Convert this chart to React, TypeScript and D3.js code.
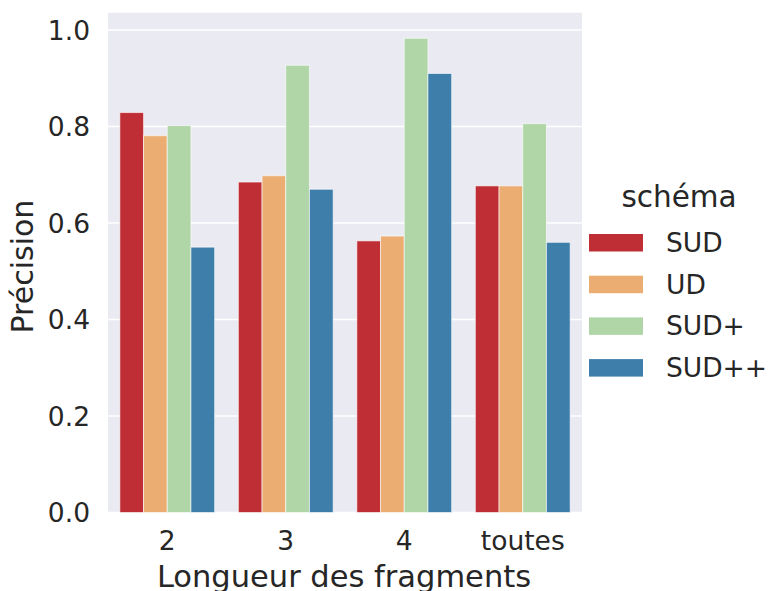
import React from "react";
import * as d3 from "d3";

const categories = ["2", "3", "4", "toutes"];
const series = ["SUD", "UD", "SUD+", "SUD++"];
const valuesSUD = [0.829, 0.685, 0.563, 0.677];
const valuesUD = [0.781, 0.698, 0.573, 0.677];
const valuesSUDp = [0.802, 0.927, 0.983, 0.806];
const valuesSUDpp = [0.55, 0.67, 0.91, 0.56];
const yTicks = [0, 0.2, 0.4, 0.6, 0.8, 1.0];
const colors = ["#c02e35", "#ebad72", "#b0d6a8", "#3d7eaa"];

const W = 772, H = 591;
const left = 108, right = 582, top = 12.7, bottom = 512.5;
const FONT = "DejaVu Sans, sans-serif";

export default function App() {
  const allValues = [valuesSUD, valuesUD, valuesSUDp, valuesSUDpp];
  const x = d3.scaleBand<string>().domain(categories).range([left, right]).paddingInner(0).paddingOuter(0);
  const y = d3.scaleLinear().domain([0, 1.036]).range([bottom, top]);
  const groupW = x.bandwidth() * 0.8;
  const inner = d3.scaleBand<string>().domain(series).range([0, groupW]);

  return (
    <svg width={W} height={H} style={{ position: "absolute", left: 0, top: 0, background: "#fff" }} fontFamily={FONT}>
      <rect x={left} y={top} width={right - left} height={bottom - top} fill="#eaeaf2" />
      {yTicks.map((t) => (
        <line key={t} x1={left} x2={right} y1={y(t)} y2={y(t)} stroke="#fff" strokeWidth={1.6} />
      ))}
      {series.map((s, si) =>
        categories.map((c, ci) => {
          const v = allValues[si][ci];
          const bx = x(c)! + (x.bandwidth() - groupW) / 2 + inner(s)!;
          return (
            <rect key={s + c} x={bx} y={y(v)} width={inner.bandwidth()} height={y(0) - y(v)}
              fill={colors[si]} stroke="#ffffff" strokeOpacity={0.6} strokeWidth={1} />
          );
        })
      )}
      {yTicks.map((t) => (
        <text key={t} x={90} y={y(t)} dy="0.36em" textAnchor="end" fontSize={26.5} fill="#262626">
          {t.toFixed(1)}
        </text>
      ))}
      {categories.map((c) => (
        <text key={c} x={x(c)! + x.bandwidth() / 2} y={550} textAnchor="middle" fontSize={26.5} fill="#262626">
          {c}
        </text>
      ))}
      <text x={(left + right) / 2 - 1} y={587} textAnchor="middle" fontSize={30.5} fill="#262626">
        Longueur des fragments
      </text>
      <text transform={`translate(33,${(top + bottom) / 2 + 4}) rotate(-90)`} textAnchor="middle" fontSize={30} fill="#262626">
        Précision
      </text>
      <text x={679} y={207} textAnchor="middle" fontSize={29.5} fill="#262626">schéma</text>
      {series.map((s, i) => (
        <g key={s} transform={`translate(0,${i * 41.7})`}>
          <rect x={589} y={234} width={54} height={17.5} fill={colors[i]} />
          <text x={666} y={252} fontSize={26.5} fill="#262626">{s}</text>
        </g>
      ))}
    </svg>
  );
}
